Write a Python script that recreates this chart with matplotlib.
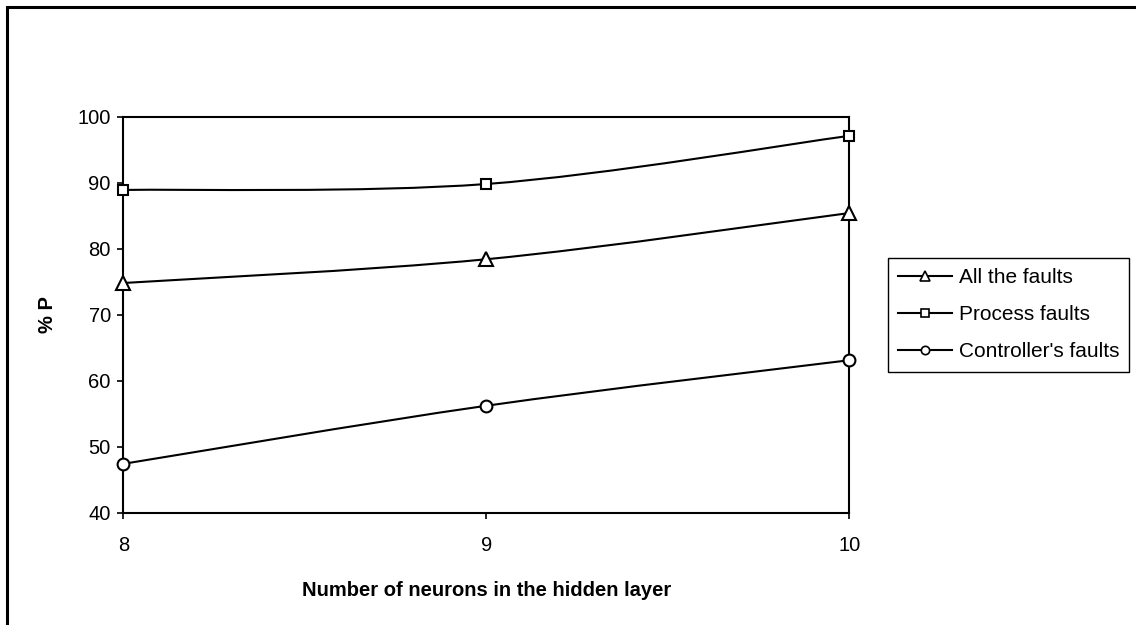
import matplotlib
matplotlib.use('Agg')
import matplotlib.pyplot as plt
from matplotlib.path import Path
from matplotlib.patches import PathPatch, Rectangle
from matplotlib.lines import Line2D

plt.rcParams['font.family'] = ['Liberation Sans', 'DejaVu Sans']

neurons = [8, 9, 10]
all_faults = [74.8, 78.4, 85.4]
process_faults = [88.9, 89.8, 97.1]
controller_faults = [47.4, 56.2, 63.1]

series = [
    ('All the faults', all_faults, '^', 9.5, 7),
    ('Process faults', process_faults, 's', 7.5, 5.5),
    ("Controller's faults", controller_faults, 'o', 8.5, 6),
]


def smooth_path(xs, ys):
    # Bezier segments through the points, like a spreadsheet "smoothed line"
    pts = list(zip(xs, ys))
    verts = [pts[0]]
    codes = [Path.MOVETO]
    n = len(pts)
    for i in range(n - 1):
        p0 = pts[i - 1] if i > 0 else pts[i]
        p1 = pts[i]
        p2 = pts[i + 1]
        p3 = pts[i + 2] if i + 2 < n else pts[i + 1]
        c1 = (p1[0] + (p2[0] - p0[0]) / 6, p1[1] + (p2[1] - p0[1]) / 6)
        c2 = (p2[0] - (p3[0] - p1[0]) / 6, p2[1] - (p3[1] - p1[1]) / 6)
        verts += [c1, c2, p2]
        codes += [Path.CURVE4] * 3
    return Path(verts, codes)


fig = plt.figure(figsize=(11.36, 6.25), dpi=100)
ax = fig.add_axes([0.1085, 0.1797, 0.6391, 0.6336])

handles = []
for label, vals, mk, ms, lms in series:
    ax.add_patch(PathPatch(smooth_path(neurons, vals), fill=False,
                           edgecolor='black', lw=1.5, clip_on=False, zorder=3))
    ax.plot(neurons, vals, linestyle='none', marker=mk, markersize=ms,
            markerfacecolor='white', markeredgecolor='black',
            markeredgewidth=1.5, clip_on=False, zorder=4)
    handles.append(Line2D([], [], color='black', lw=1.5, marker=mk, markersize=lms,
                          markerfacecolor='white', markeredgecolor='black',
                          markeredgewidth=1.2, label=label))

ax.set_xlim(8, 10)
ax.set_ylim(40, 100)
ax.set_xticks(neurons)
ax.set_yticks(range(40, 101, 10))
for s in ax.spines.values():
    s.set_linewidth(1.5)
ax.tick_params(axis='y', direction='out', length=4, width=1.2, labelsize=14.5, pad=5)
ax.tick_params(axis='x', direction='out', length=4.5, width=1.2, labelsize=14.5, pad=12)

ax.set_xlabel('Number of neurons in the hidden layer', fontsize=14.5,
              fontweight='bold', labelpad=19)
ax.set_ylabel('% P', fontsize=14.5, fontweight='bold', labelpad=15)

leg = fig.legend(handles=handles, loc='upper left', bbox_to_anchor=(0.7814, 0.588),
                 fontsize=15, frameon=True, fancybox=False, edgecolor='black',
                 framealpha=1, handlelength=2.6, handletextpad=0.3,
                 labelspacing=0.87, borderpad=0.5, borderaxespad=0)
leg.get_frame().set_linewidth(1.0)

# chart area border, open on the right and bottom
fig.patches.append(Rectangle((7 / 1136, -0.1), 1.2, 1 - 7 / 625 + 0.1,
                             transform=fig.transFigure, fill=False,
                             edgecolor='black', lw=2.2))

fig.savefig('out.png', dpi=100)
